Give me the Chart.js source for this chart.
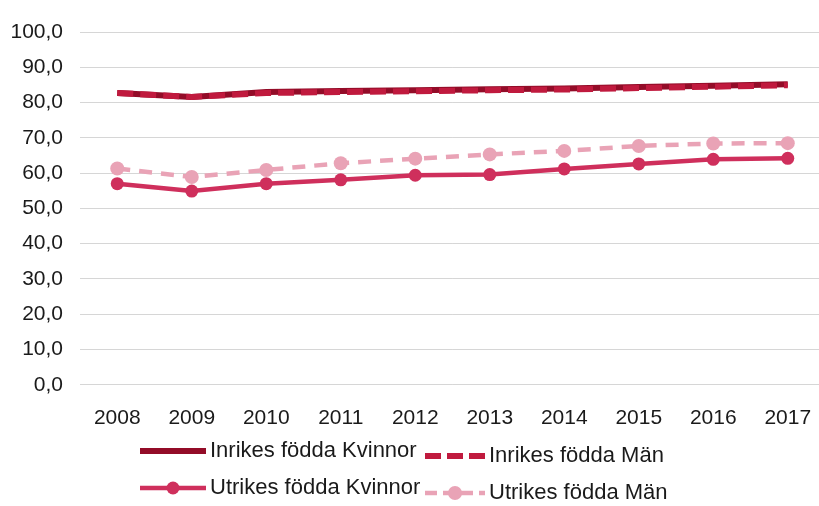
<!DOCTYPE html>
<html><head><meta charset="utf-8">
<script src="https://cdn.jsdelivr.net/npm/chart.js@4"></script>
<style>
html,body{margin:0;padding:0;background:#fff;overflow:hidden;width:819px;height:506px}
#wrap{position:absolute;left:0;top:0;width:832px;height:506px}
</style>
</head><body><div id="wrap"><canvas id="c"></canvas></div>
<script>
const years = ['2008','2009','2010','2011','2012','2013','2014','2015','2016','2017'];
const inrikesKvinnor = [82.7,81.6,83.0,83.3,83.5,83.8,84.0,84.4,84.8,85.2];
const inrikesMan     = [82.7,81.6,82.7,83.0,83.2,83.5,83.7,84.1,84.5,84.9];
const utrikesKvinnor = [57.0,54.9,57.0,58.1,59.4,59.6,61.2,62.6,63.9,64.2];
const utrikesMan     = [61.3,58.9,60.9,62.8,64.1,65.3,66.3,67.7,68.4,68.5];
const seriesLabels = ['Inrikes födda Kvinnor','Inrikes födda Män','Utrikes födda Kvinnor','Utrikes födda Män'];

const FONT = '"Liberation Sans", Arial, sans-serif';

const legendLayout = [
  {ds:0, x:140, y:451, w:66, dash:[]},
  {ds:1, x:425, y:456, w:60, dash:[16,6]},
  {ds:2, x:140, y:488, w:66, dash:[]},
  {ds:3, x:425, y:493, w:60, dash:[12,6]}
];

const legendPlugin = {
  id:'customLegend',
  afterDraw(chart){
    const ctx = chart.ctx;
    legendLayout.forEach(it=>{
      const ds = chart.data.datasets[it.ds];
      ctx.save();
      ctx.strokeStyle = ds.borderColor;
      ctx.lineWidth = ds.borderWidth;
      ctx.lineCap = 'butt';
      ctx.setLineDash(it.dash);
      ctx.beginPath();
      ctx.moveTo(it.x, it.y);
      ctx.lineTo(it.x + it.w, it.y);
      ctx.stroke();
      ctx.setLineDash([]);
      if (ds.pointRadius > 0) {
        ctx.beginPath();
        ctx.fillStyle = ds.pointBackgroundColor;
        ctx.arc(it.x + it.w/2, it.y, ds.pointRadius, 0, Math.PI*2);
        ctx.fill();
      }
      ctx.fillStyle = '#1a1a1a';
      ctx.font = '22px ' + FONT;
      ctx.textBaseline = 'middle';
      ctx.textAlign = 'left';
      ctx.fillText(ds.label, it.x + it.w + 4, it.y);
      ctx.restore();
    });
  }
};

new Chart(document.getElementById('c'), {
  type:'line',
  data:{
    labels: years,
    datasets:[
      {label:seriesLabels[0], data:inrikesKvinnor, borderColor:'#930c28', backgroundColor:'#930c28', borderWidth:6, pointRadius:0, order:4},
      {label:seriesLabels[1], data:inrikesMan, borderColor:'#c01a3e', backgroundColor:'#c01a3e', borderWidth:6, borderDash:[16,7], pointRadius:0, order:3},
      {label:seriesLabels[2], data:utrikesKvinnor, borderColor:'#cf2f5c', backgroundColor:'#cf2f5c', borderWidth:4.5, pointRadius:6.5, pointBackgroundColor:'#cf2f5c', pointBorderWidth:0, order:2},
      {label:seriesLabels[3], data:utrikesMan, borderColor:'#e9a3b6', backgroundColor:'#e9a3b6', borderWidth:4.5, borderDash:[13,9], pointRadius:7, pointBackgroundColor:'#e9a3b6', pointBorderWidth:0, order:1}
    ]
  },
  options:{
    responsive:true,
    maintainAspectRatio:false,
    animation:false,
    devicePixelRatio:1,
    layout:{padding:{left:10, top:32, right:0, bottom:62}},
    plugins:{legend:{display:false}, tooltip:{enabled:false}},
    scales:{
      x:{
        offset:true,
        grid:{display:false},
        border:{display:false},
        ticks:{color:'#1a1a1a', font:{family:FONT, size:21}, padding:13, maxRotation:0}
      },
      y:{
        min:0, max:100,
        afterFit(scale){ scale.width = 70; },
        grid:{color:'rgba(0,0,0,0.16)', lineWidth:1, drawTicks:false},
        border:{display:false},
        ticks:{stepSize:10, color:'#1a1a1a', font:{family:FONT, size:21}, padding:17,
          callback:v=>v.toFixed(1).replace('.',',')}
      }
    }
  },
  plugins:[legendPlugin]
});
</script>
</body></html>
